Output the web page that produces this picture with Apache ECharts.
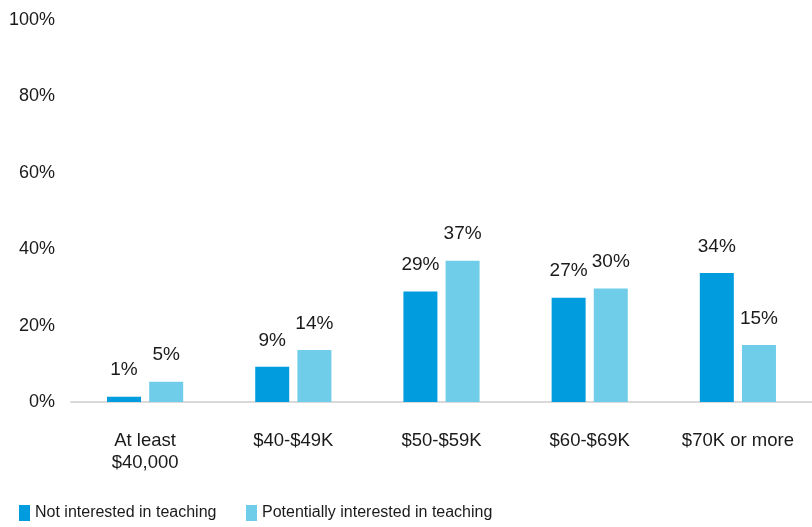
<!DOCTYPE html>
<html>
<head>
<meta charset="utf-8">
<script src="https://cdn.jsdelivr.net/npm/echarts@6/dist/echarts.min.js"></script>
<style>
  html, body { margin: 0; padding: 0; background: #fff; }
  #chart { width: 812px; height: 527px; }
</style>
</head>
<body>
<div id="chart"></div>
<script>
  // salary bands and shares (%)
  var categories = ['At least\n$40,000', '$40-$49K', '$50-$59K', '$60-$69K', '$70K or more']
  var notInterested = [1.4, 9.2, 28.9, 27.3, 33.8]
  var potentiallyInterested = [5.3, 13.6, 37, 29.7, 14.9]
  var yTicks = [0, 20, 40, 60, 80, 100]

  var darkBlue = '#009CDD'
  var lightBlue = '#70CDE9'
  var textColor = '#1a1a1a'
  var font = 'Liberation Sans, Arial, sans-serif'

  var labelStyle = {
    show: true,
    position: 'top',
    distance: 17,
    fontFamily: font,
    fontSize: 19,
    color: textColor,
    formatter: function (p) { return Math.round(p.value) + '%' }
  }

  var legendText = {
    fontFamily: 'Liberation Sans Narrow, Arial Narrow, sans-serif',
    fontSize: 16,
    color: textColor
  }

  var option = {
    animation: false,
    grid: { left: 71, width: 745, top: 20, bottom: 125 },
    legend: [
      {
        left: 19, top: 505, padding: 0, itemWidth: 11, itemHeight: 16, itemGap: 4,
        icon: 'rect', textStyle: legendText, data: ['Not interested in teaching']
      },
      {
        left: 246, top: 505, padding: 0, itemWidth: 11, itemHeight: 16, itemGap: 4,
        icon: 'rect', textStyle: legendText, data: ['Potentially interested in teaching']
      }
    ],
    xAxis: {
      type: 'category',
      data: categories,
      axisLine: { lineStyle: { color: '#d9d9d9', width: 2 } },
      axisTick: { show: false },
      axisLabel: {
        interval: 0,
        hideOverlap: false,
        margin: 28,
        fontFamily: font,
        fontSize: 18.5,
        lineHeight: 22,
        color: textColor
      }
    },
    yAxis: {
      type: 'value',
      min: yTicks[0],
      max: yTicks[yTicks.length - 1],
      interval: 20,
      splitLine: { show: false },
      axisLine: { show: false },
      axisTick: { show: false },
      axisLabel: {
        margin: 16,
        fontFamily: font,
        fontSize: 18,
        color: textColor,
        formatter: '{value}%'
      }
    },
    series: [
      {
        name: 'Not interested in teaching',
        type: 'bar',
        barWidth: 34,
        barGap: '24%',
        itemStyle: { color: darkBlue },
        label: labelStyle,
        data: notInterested
      },
      {
        name: 'Potentially interested in teaching',
        type: 'bar',
        barWidth: 34,
        itemStyle: { color: lightBlue },
        label: labelStyle,
        data: potentiallyInterested
      }
    ]
  }

  var myChart = echarts.init(document.getElementById('chart'))
  myChart.setOption(option)
</script>
</body>
</html>
